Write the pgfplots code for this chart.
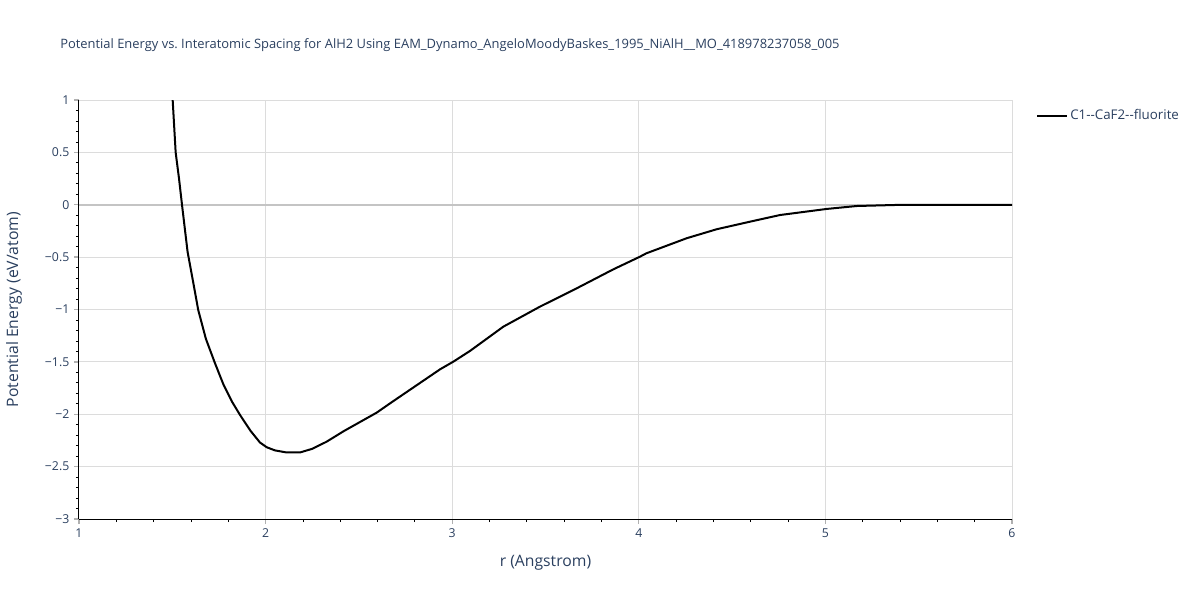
\documentclass[border=0pt]{standalone}
\usepackage{pgfplots}
\pgfplotsset{compat=1.18}
\usepackage{fontspec}
\setmainfont[Ligatures=TeXOff]{Open Sans}
\definecolor{plotlytext}{HTML}{2A3F5F}
\definecolor{gridgray}{HTML}{DCDCDC}
\definecolor{zerogray}{HTML}{C4C4C4}
\definecolor{majtick}{HTML}{B0B0B0}
\frenchspacing

\begin{document}
\begin{tikzpicture}
  \begin{axis}[
      name=ax,
      at={(0,0)}, anchor=south west,
      scale only axis,
      width=699.75pt,
      height=314.25pt,
      xmin=1, xmax=6,
      ymin=-3, ymax=1,
      axis x line*=bottom,
      axis y line*=left,
      axis line style={black, line width=0.75pt, -},
      xtick={1,2,3,4,5,6},
      ytick={-3,-2.5,-2,-1.5,-1,-0.5,0,0.5,1},
      yticklabels={−3,−2.5,−2,−1.5,−1,−0.5,0,0.5,1},
      minor x tick num=4,
      minor y tick num=4,
      tick align=outside,
      major tick length=3.75pt,
      minor tick length=2.25pt,
      major tick style={majtick, line width=1pt},
      minor tick style={black, line width=0.6pt},
      xmajorgrids=true,
      ymajorgrids=true,
      major grid style={gridgray, line width=0.75pt},
      tick label style={font=\fontsize{9.2}{10}\selectfont, text=plotlytext},
      /pgf/number format/assume math mode=true,
      xlabel={r (Angstrom)},
      ylabel={Potential Energy (eV/atom)},
      label style={font=\fontsize{11.8}{13}\selectfont, text=plotlytext},
      x label style={at={(axis description cs:0.5,0)}, anchor=center, yshift=-33pt},
      y label style={at={(axis description cs:-0.0697,0.5)}, anchor=center},
      legend style={
        at={(1,1)}, anchor=north west, xshift=15pt, yshift=-3pt,
        draw=none, fill=none,
        font=\fontsize{10}{11}\selectfont,
        text=plotlytext,
        legend cell align=left
      },
      legend image code/.code={\draw[#1] (0pt,0pt) -- (22pt,0pt);},
    ]
    \addplot[zerogray, line width=1.5pt, forget plot] coordinates {(1,0) (6,0)};
    \addplot[black, line width=1.5pt] coordinates {
      (1.480, 1.25)
      (1.502, 1.0)
      (1.518, 0.5)
      (1.536, 0.25)
      (1.552, 0.0)
      (1.568, -0.241)
      (1.582, -0.45)
      (1.613, -0.75)
      (1.639, -1.005)
      (1.680, -1.28)
      (1.729, -1.514)
      (1.775, -1.72)
      (1.820, -1.88)
      (1.863, -2.007)
      (1.920, -2.16)
      (1.970, -2.27)
      (2.006, -2.315)
      (2.050, -2.345)
      (2.113, -2.365)
      (2.184, -2.365)
      (2.250, -2.33)
      (2.327, -2.262)
      (2.420, -2.16)
      (2.595, -1.985)
      (2.680, -1.88)
      (2.935, -1.571)
      (3.006, -1.498)
      (3.095, -1.396)
      (3.274, -1.164)
      (3.470, -0.973)
      (3.667, -0.798)
      (3.863, -0.617)
      (4.006, -0.496)
      (4.040, -0.464)
      (4.256, -0.32)
      (4.417, -0.234)
      (4.600, -0.16)
      (4.757, -0.098)
      (5.007, -0.04)
      (5.168, -0.012)
      (5.400, -0.001)
      (5.800, 0.0)
      (6.000, 0.0)
    };
    \addlegendentry{C1--CaF2--fluorite}
  \end{axis}
  \node[anchor=west, inner sep=0pt, text=plotlytext, font=\fontsize{9.7}{11}\selectfont]
    at (-14.25pt,355.5pt) {Potential Energy vs. Interatomic Spacing for AlH2 Using EAM\_Dynamo\_AngeloMoodyBaskes\_1995\_NiAlH\_\_MO\_418978237058\_005};
  \pgfresetboundingbox
  \useasboundingbox (-59.25pt,-60.75pt) rectangle (840.75pt,389.25pt);
\end{tikzpicture}
\end{document}
